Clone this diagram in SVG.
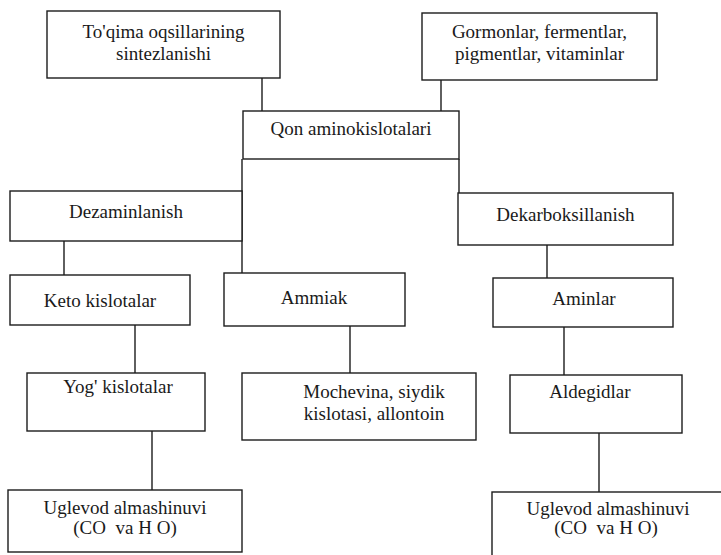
<svg xmlns="http://www.w3.org/2000/svg" width="721" height="555" viewBox="0 0 721 555">
<style>
.box{fill:#fff;stroke:#1c1c1c;stroke-width:1.4}
.ln{stroke:#1c1c1c;stroke-width:1.4;fill:none}
text{font-size:19px;fill:#1a1a1a;text-anchor:middle;white-space:pre}
</style>
<rect width="721" height="555" fill="#fff"/>
<g id="connectors">
<line class="ln" x1="262" y1="78" x2="262" y2="111"/>
<line class="ln" x1="441" y1="80" x2="441" y2="112"/>
<line class="ln" x1="242" y1="159" x2="242" y2="273"/>
<line class="ln" x1="459" y1="159" x2="459" y2="193"/>
<line class="ln" x1="64" y1="241" x2="64" y2="275"/>
<line class="ln" x1="135" y1="325" x2="135" y2="373"/>
<line class="ln" x1="350" y1="326" x2="350" y2="373"/>
<line class="ln" x1="547" y1="245" x2="547" y2="278"/>
<line class="ln" x1="564" y1="327" x2="564" y2="375"/>
<line class="ln" x1="599" y1="433" x2="599" y2="492"/>
<line class="ln" x1="152" y1="431" x2="152" y2="490"/>
</g>
<g id="nodes" font-family="Liberation Serif, Times New Roman, serif">
<g id="toqima"><rect class="box" x="47" y="11" width="233" height="67"/><text x="163.5" y="38">To'qima oqsillarining</text><text x="163.5" y="60">sintezlanishi</text></g>
<g id="gormonlar"><rect class="box" x="422" y="13" width="235" height="67"/><text x="539.5" y="38">Gormonlar, fermentlar,</text><text x="539.5" y="60">pigmentlar, vitaminlar</text></g>
<g id="qon"><rect class="box" x="243" y="111" width="216" height="48"/><text x="351" y="135">Qon aminokislotalari</text></g>
<g id="dezaminlanish"><rect class="box" x="10" y="191" width="232" height="50"/><text x="126" y="218">Dezaminlanish</text></g>
<g id="dekarboksillanish"><rect class="box" x="458" y="193" width="215" height="52"/><text x="565.5" y="221">Dekarboksillanish</text></g>
<g id="keto"><rect class="box" x="10" y="275" width="180" height="50"/><text x="100" y="307">Keto kislotalar</text></g>
<g id="ammiak"><rect class="box" x="224" y="273" width="181" height="53"/><text x="314" y="304">Ammiak</text></g>
<g id="aminlar"><rect class="box" x="493" y="278" width="180" height="49"/><text x="584" y="305">Aminlar</text></g>
<g id="yog"><rect class="box" x="27" y="373" width="178" height="58"/><text x="118" y="393">Yog' kislotalar</text></g>
<g id="mochevina"><rect class="box" x="242" y="373" width="234" height="67"/><text x="374" y="398">Mochevina, siydik</text><text x="374" y="420">kislotasi, allontoin</text></g>
<g id="aldegidlar"><rect class="box" x="510" y="375" width="172" height="58"/><text x="590" y="398">Aldegidlar</text></g>
<g id="uglevod1"><rect class="box" x="8" y="490" width="234" height="62"/><text x="125" y="514">Uglevod almashinuvi</text><text x="125" y="534">(CO  va H O)</text></g>
<g id="uglevod2"><rect class="box" x="492" y="492" width="234" height="70"/><text x="608" y="515">Uglevod almashinuvi</text><text x="606" y="534">(CO  va H O)</text></g>
</g>
</svg>
